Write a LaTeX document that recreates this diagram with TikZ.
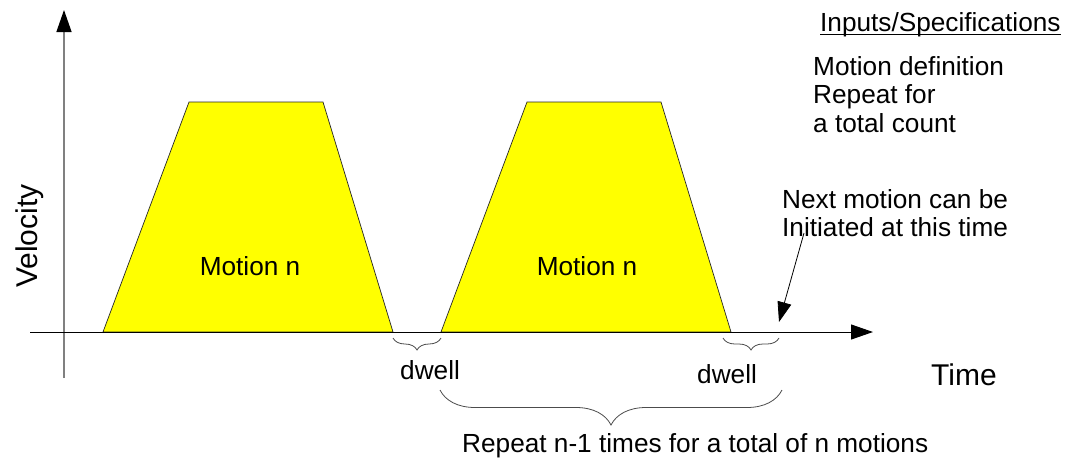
\documentclass[tikz,border=0pt]{standalone}
\usepackage{fontspec}
\setmainfont{Liberation Sans}
\usetikzlibrary{arrows.meta,decorations.pathreplacing}
\definecolor{motionyellow}{RGB}{255,255,0}
\begin{document}
\begin{tikzpicture}[x=1pt,y=-1pt,
  lbl/.style={font=\fontsize{26.2}{28}\selectfont, inner sep=0pt, anchor=base west},
  bigl/.style={font=\fontsize{30}{32}\selectfont, inner sep=0pt},
  trap/.style={fill=motionyellow, draw=black!85, line width=0.7pt, line join=miter},
  brc/.style={decorate, decoration={brace, mirror, amplitude=#1}, draw=black!70, line width=0.8pt},
  axhead/.style={-{Triangle[length=22pt,width=15pt,color=black]}},
]
\useasboundingbox (0,0) rectangle (1067,461);
\fill[white] (0,0) rectangle (1067,461);

% trapezoids
\draw[trap] (103,332) -- (189,102) -- (323,102) -- (393,332) -- cycle;
\draw[trap] (441,332) -- (527,102) -- (661,102) -- (731,332) -- cycle;

% axes
\coordinate (vb) at (64,378);
\coordinate (vt) at (64,10);
\draw[gray, line width=1.3pt, axhead] (vb) -- (vt);
\coordinate (hl) at (30,332);
\coordinate (hr) at (873,332);
\draw[black, line width=1pt, axhead] (hl) -- (hr);

% texts
\node[lbl, anchor=base] (m1) at (250,275) {Motion n};
\node[lbl, anchor=base] (m2) at (587,275) {Motion n};
\node[bigl, anchor=base, rotate=90] (vel) at (37,236) {Velocity};
\node[bigl, anchor=base west] (time) at (931,385) {Time};
\node[lbl] (dw1) at (400,379) {dwell};
\node[lbl] (dw2) at (697,383) {dwell};
\node[lbl] (rep) at (462,452) {Repeat n-1 times for a total of n motions};
\node[lbl] (ins) at (820,31) {Inputs/Specifications};
\draw[line width=1pt] ([yshift=-3pt]ins.base west) -- ([yshift=-3pt]ins.base east);
\node[lbl] (md1) at (813,75) {Motion definition};
\node[lbl] (md2) at (813,103.5) {Repeat for};
\node[lbl] (md3) at (813,132) {a total count};
\node[lbl] (nm1) at (782,208) {Next motion can be};
\node[lbl] (nm2) at (782,236) {Initiated at this time};

% braces
\coordinate (b1l) at (393,338);
\coordinate (b1r) at (441,338);
\draw[brc=12pt] (b1l) -- (b1r);
\coordinate (b2l) at (723,338);
\coordinate (b2r) at (779,338);
\draw[brc=12pt] (b2l) -- (b2r);
\coordinate (b3l) at (440,390);
\coordinate (b3r) at (782,390);
\draw[brc=35pt] (b3l) -- (b3r);

% pointer arrow
\coordinate (ps) at (804,233);
\coordinate (pe) at (779,322);
\draw[black, line width=0.8pt, -{Triangle[length=20pt,width=14pt]}] (ps) -- (pe);
\end{tikzpicture}
\end{document}
